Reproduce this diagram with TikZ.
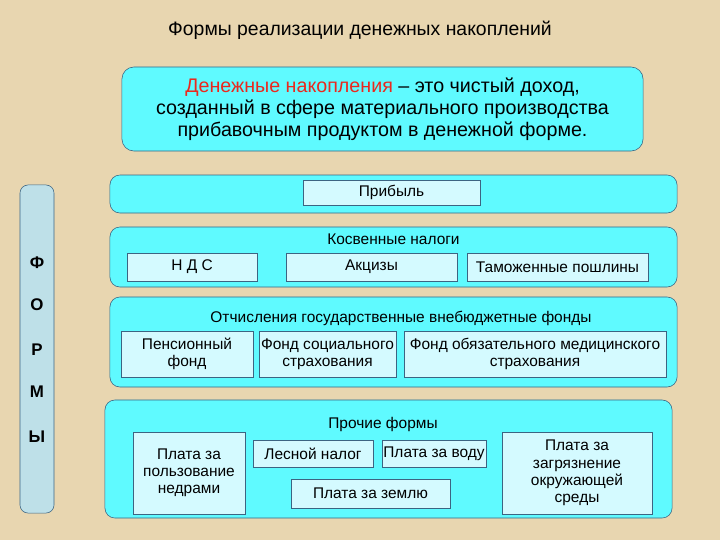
\documentclass[tikz,border=0pt]{standalone}
\usepackage{fontspec}
\setmainfont{Liberation Sans}
\usepackage{xcolor}
\usetikzlibrary{positioning}

\definecolor{parch}{RGB}{232,214,176}
\definecolor{bandcyan}{RGB}{95,250,255}
\definecolor{cellcyan}{RGB}{212,250,255}
\definecolor{sidecyan}{RGB}{190,224,232}
\definecolor{edgeblue}{RGB}{60,100,130}
\definecolor{deftred}{RGB}{235,40,30}

\begin{document}
\begin{tikzpicture}[x=0.025cm, y=-0.025cm,
    band/.style={draw=edgeblue, fill=bandcyan, rounded corners=0.25cm,
        minimum width=14.175cm, inner sep=0pt},
    cell/.style={draw=edgeblue, fill=cellcyan, align=center, inner sep=1pt,
        minimum height=0.7cm, font=\fontsize{11}{12.2}\selectfont},
    head/.style={font=\fontsize{11}{12.2}\selectfont},
    letter/.style={font=\fontsize{12}{14}\selectfont\bfseries},
]
    % Background
    \fill[parch] (0,0) rectangle (720,540);
    \useasboundingbox (0,0) rectangle (720,540);

    % Title
    \node[font=\fontsize{13.8}{16}\selectfont] (title) at (360,30)
        {Формы реализации денежных накоплений};

    % Definition
    \node[draw=edgeblue, fill=bandcyan, rounded corners=0.3cm,
        minimum width=13.025cm, minimum height=2.1cm, align=center,
        font=\fontsize{14}{15.6}\selectfont] (defn) at (382.5,109)
        {\textcolor{deftred}{Денежные накопления} -- это чистый доход,\\
         созданный в сфере материального производства\\
         прибавочным продуктом в денежной форме.};

    % Side column
    \node[draw=edgeblue, fill=sidecyan, rounded corners=0.2cm,
        minimum width=0.85cm, minimum height=8.2cm] (side) at (37,349) {};
    \foreach \ch/\py in {Ф/263, О/305, Р/350, М/392, Ы/437} {
        \node[letter] (side\py) at (37,\py) {\ch};
    }

    % Profit
    \node[band, minimum height=0.95cm] (bprofit) at (393.5,194) {};
    \node[cell, minimum width=4.425cm, minimum height=0.625cm] (profit)
        at (391.5,192.5) {Прибыль};

    % Indirect taxes
    \node[band, minimum height=1.5cm] (btax) at (393.5,257) {};
    \node[head] (taxhead) at (393.5,239) {Косвенные налоги};
    \node[cell, minimum width=3.25cm] (vat) at (192,267) {Н Д С};
    \node[cell, minimum width=4.275cm] (excise) at (371.5,267) {Акцизы};
    \node[cell, minimum width=4.525cm] (customs) at (557.5,267)
        {Таможенные пошлины};

    % Extra-budgetary funds
    \node[band, minimum height=2.25cm] (bfund) at (393.5,342) {};
    \node[head] (fundhead) at (401,318)
        {Отчисления государственные внебюджетные фонды};
    \node[cell, minimum width=3.3cm, minimum height=1.15cm] (pension)
        at (187,354) {Пенсионный\\фонд};
    \node[cell, minimum width=3.425cm, minimum height=1.15cm] (social)
        at (327.5,354) {Фонд социального\\страхования};
    \node[cell, minimum width=6.55cm, minimum height=1.15cm] (medical)
        at (535,354) {Фонд обязательного медицинского\\страхования};

    % Other forms
    \node[band, minimum height=2.95cm] (bother) at (388.5,459) {};
    \node[head] (otherhead) at (383,424) {Прочие формы};
    \node[cell, minimum width=2.8cm, minimum height=2.05cm] (subsoil)
        at (189,473) {Плата за\\пользование\\недрами};
    \node[cell, minimum width=3cm, minimum height=0.675cm] (forest)
        at (313,453.5) {Лесной налог};
    \node[cell, minimum width=2.5cm, minimum height=0.675cm] (water)
        at (434,453.5) {Плата за воду};
    \node[cell, minimum width=3.975cm, minimum height=0.725cm] (land)
        at (370.5,493.5) {Плата за землю};
    \node[cell, minimum width=3.75cm, minimum height=2.05cm] (pollution)
        at (577,473) {Плата за\\загрязнение\\окружающей\\среды};
\end{tikzpicture}
\end{document}
